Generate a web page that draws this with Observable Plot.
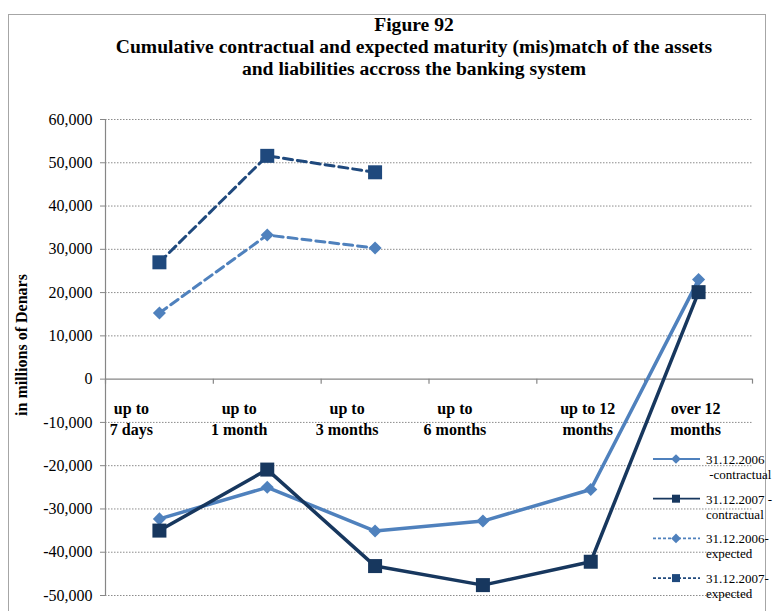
<!DOCTYPE html>
<html><head><meta charset="utf-8">
<script src="https://cdn.jsdelivr.net/npm/d3@7"></script>
<script src="https://cdn.jsdelivr.net/npm/@observablehq/plot@0.6"></script>
<style>
html,body{margin:0;padding:0;background:#fff;}
body{width:776px;height:611px;overflow:hidden;position:relative;font-family:"Liberation Serif",serif;color:#000;}
#frame{position:absolute;left:8px;top:14px;width:758px;height:640px;border:1.5px solid #a6a6a6;box-sizing:border-box;}
#title{position:absolute;left:0;width:828px;top:14px;text-align:center;font-weight:bold;font-size:19.6px;line-height:22px;}
#chart{position:absolute;left:0;top:100px;}
#ytitle{position:absolute;left:22px;top:345px;transform:translate(-50%,-50%) rotate(-90deg);white-space:nowrap;font-weight:bold;font-size:16px;}
#legend{position:absolute;left:640px;top:440px;}
#chart svg, #chart svg text, #legend svg, #legend svg text {font-family:"Liberation Serif",serif !important;}
#chart svg [aria-label="y-axis tick"] {stroke:#868686;}
</style>
</head><body>
<div id="frame"></div>
<div id="title">Figure 92<br>Cumulative contractual and expected maturity (mis)match of the assets<br>and liabilities accross the banking system</div>
<div id="chart"></div>
<div id="ytitle">in millions of Denars</div>
<div id="legend"></div>
<script>
// ---- data ----
const categories = ["up to\n7 days", "up to\n1 month", "up to\n3 months", "up to\n6 months", "up to 12\nmonths", "over 12\nmonths"];
const contractual2006 = [-32300, -25000, -35100, -32800, -25500, 23000];
const contractual2007 = [-35000, -20900, -43200, -47600, -42200, 20100];
const expected2006 = [15300, 33300, 30300, null, null, null];
const expected2007 = [27000, 51600, 47800, null, null, null];
const seriesNames = ["31.12.2006\n -contractual", "31.12.2007 -\ncontractual", "31.12.2006-\nexpected", "31.12.2007-\nexpected"];
const yTicks = [-50000, -40000, -30000, -20000, -10000, 0, 10000, 20000, 30000, 40000, 50000, 60000];

// ---- styles ----
const LIGHT = "#4F81BD", DARK = "#17375E", DARK_EXP = "#1F497D", AXIS = "#868686";
const idx = categories.map((_, i) => i);
const bounds = d3.range(-0.5, categories.length, 1);
const fmt = d => d.toLocaleString("en-US");

const chart = Plot.plot({
  width: 776, height: 511,
  marginLeft: 105, marginRight: 24, marginTop: 19, marginBottom: 16,
  style: {fontFamily: "Liberation Serif", fontSize: "16px", color: "#000", background: "transparent"},
  x: {type: "linear", domain: [-0.5, categories.length - 0.5], axis: null},
  y: {domain: [yTicks[0], yTicks[yTicks.length - 1]], ticks: yTicks, tickSize: 5, tickPadding: 8, tickFormat: fmt, label: null},
  marks: [
    Plot.ruleY(yTicks.filter(d => d !== 0), {x1: -0.5, x2: categories.length - 0.5, stroke: "#8c8c8c", strokeWidth: 1, strokeDasharray: "1.5,1.5"}),
    Plot.ruleX([-0.5], {stroke: AXIS, strokeWidth: 1.2}),
    Plot.ruleY([0], {x1: -0.5, x2: categories.length - 0.5, stroke: AXIS, strokeWidth: 1.2}),
    Plot.ruleX(bounds, {y1: () => 0, y2: () => 0, insetBottom: -5, stroke: AXIS, strokeWidth: 1.2}),
    Plot.text(idx.slice(0, 4), {x: i => i, y: () => 0, text: i => categories[i], dx: -28, dy: 20, lineAnchor: "top", lineHeight: 1.3125, fontWeight: "bold", fontSize: 16, fill: "#000"}),
    Plot.text(idx.slice(4), {x: i => i, y: () => 0, text: i => categories[i], dx: -3, dy: 20, lineAnchor: "top", lineHeight: 1.3125, fontWeight: "bold", fontSize: 16, fill: "#000"}),
    Plot.line(idx, {x: i => i, y: i => contractual2006[i], stroke: LIGHT, strokeWidth: 3.5}),
    Plot.dot(idx, {x: i => i, y: i => contractual2006[i], symbol: "diamond2", r: 5.9, fill: LIGHT, stroke: null}),
    Plot.line(idx, {x: i => i, y: i => contractual2007[i], stroke: DARK, strokeWidth: 3.5}),
    Plot.dot(idx, {x: i => i, y: i => contractual2007[i], symbol: "square", r: 7.9, fill: DARK, stroke: null}),
    Plot.line(idx, {x: i => i, y: i => expected2006[i], stroke: LIGHT, strokeWidth: 3, strokeDasharray: "9,5"}),
    Plot.dot(idx, {x: i => i, y: i => expected2006[i], symbol: "diamond2", r: 5.9, fill: LIGHT, stroke: null}),
    Plot.line(idx, {x: i => i, y: i => expected2007[i], stroke: DARK_EXP, strokeWidth: 3, strokeDasharray: "9,5"}),
    Plot.dot(idx, {x: i => i, y: i => expected2007[i], symbol: "square", r: 7.9, fill: DARK_EXP, stroke: null})
  ]
});
document.getElementById("chart").appendChild(chart);

// ---- legend ----
const legendStyles = [
  {color: LIGHT, dash: null, symbol: d3.symbolDiamond2, size: 60},
  {color: DARK, dash: null, symbol: d3.symbolSquare, size: 64},
  {color: LIGHT, dash: "3,2", symbol: d3.symbolDiamond2, size: 60},
  {color: DARK_EXP, dash: "3,2", symbol: d3.symbolSquare, size: 64}
];
const lg = d3.select("#legend").append("svg").attr("width", 136).attr("height", 171)
  .style("font-size", "13px");
seriesNames.forEach((name, k) => {
  const s = legendStyles[k];
  const cy = 19 + k * 39.7;
  const g = lg.append("g");
  g.append("line").attr("x1", 13).attr("x2", 60).attr("y1", cy).attr("y2", cy)
    .attr("stroke", s.color).attr("stroke-width", 1.8).attr("stroke-dasharray", s.dash);
  g.append("path").attr("transform", `translate(36,${cy})`).attr("d", d3.symbol(s.symbol, s.size)()).attr("fill", s.color);
  const lines = name.split("\n");
  const t = g.append("text").attr("fill", "#000");
  lines.forEach((ln, j) => {
    t.append("tspan").attr("x", 66).attr("y", cy + 5 + j * 15).attr("xml:space", "preserve").text(ln);
  });
});
</script>
</body></html>
